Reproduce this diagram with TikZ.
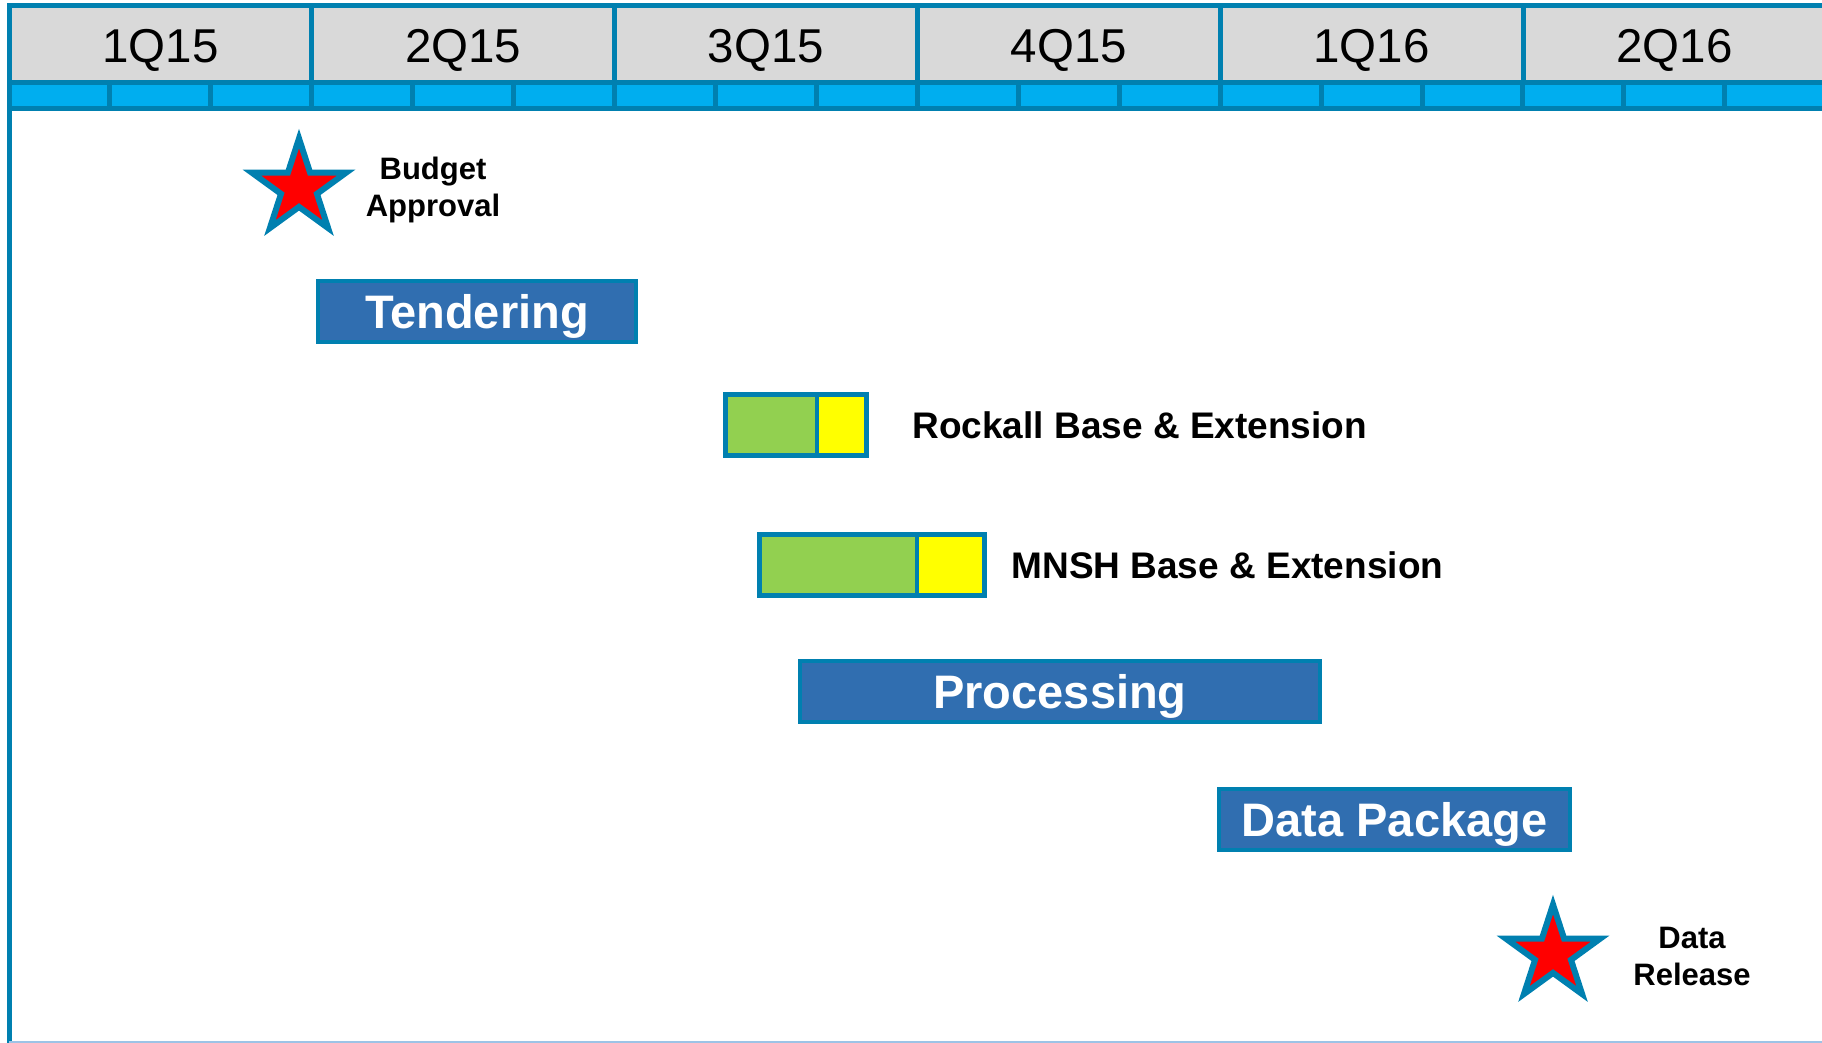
\documentclass[tikz,border=0pt]{standalone}
\usepackage{fontspec}
\setmainfont{Liberation Sans}
\usetikzlibrary{shapes.geometric,positioning}
\definecolor{frameblue}{HTML}{0080B0}
\definecolor{headgray}{HTML}{D9D9D9}
\definecolor{stripblue}{HTML}{00AEEF}
\definecolor{taskblue}{HTML}{306EB0}
\definecolor{basegreen}{HTML}{92D050}
\definecolor{extyellow}{HTML}{FFFF00}
\definecolor{edgeblue}{HTML}{9DC3E6}
\begin{document}
\begin{tikzpicture}[x=1pt,y=-1pt,
        quarter/.style={draw=frameblue,line width=5pt,fill=headgray,inner sep=0pt,outer sep=0pt,
            minimum width=302.8pt,minimum height=77pt,anchor=north west,
            text height=37.6pt,text depth=0pt,font=\fontsize{47.5}{56}\selectfont},
        month/.style={draw=frameblue,line width=5pt,fill=stripblue,inner sep=0pt,outer sep=0pt,
            minimum width=100.93pt,minimum height=26pt,anchor=north west},
        task/.style={draw=frameblue,line width=4pt,fill=taskblue,text=white,inner sep=0pt,outer sep=0pt,
            minimum height=61pt,anchor=north west,text height=33.6pt,text depth=0pt,
            font=\bfseries\fontsize{47}{56}\selectfont},
        part/.style={draw=frameblue,line width=4.5pt,inner sep=0pt,outer sep=0pt,minimum height=61pt},
        phase/.style={anchor=west,inner sep=0pt,outer sep=0pt,text height=26.5pt,text depth=0pt,
            font=\bfseries\fontsize{37}{44}\selectfont},
        milestone/.style={star,star points=5,star point ratio=2.618,minimum size=99pt,
            inner sep=0pt,outer sep=0pt,fill=red,draw=frameblue,line width=6pt},
        note/.style={align=center,inner sep=0pt,font=\bfseries\fontsize{31}{37}\selectfont},
        ]
        \useasboundingbox (0,0) rectangle (1822,1043);
        \clip (0,0) rectangle (1822,1043);

        % quarters and months
        \foreach \q [count=\i from 0] in {1Q15,2Q15,3Q15,4Q15,1Q16,2Q16}
            \node[quarter] (q\i) at (9+302.8*\i,5.5) {\q};
        \foreach \m in {0,...,17}
            \node[month] (m\m) at (9+100.93*\m,82.5) {};
        \draw[frameblue,line width=5pt] (9,5.5) -- (9,1043);
        \draw[edgeblue,line width=2pt] (9,1042) -- (1822,1042);

        % milestones
        \node[milestone] (budget) at (299,188) {};
        \node[note] (budgettxt) at (433,190) {Budget\\Approval};
        \node[milestone] (release) at (1553,954) {};
        \node[note] (releasetxt) at (1692,956) {Data\\Release};

        % tasks
        \node[task,minimum width=318pt] (tendering) at (318,281) {Tendering};

        \node[part,fill=basegreen,minimum width=91.5pt,anchor=north west] (rockallbase) at (725.5,394.5) {};
        \node[part,fill=extyellow,minimum width=49.5pt,anchor=west] (rockallext) at (rockallbase.east) {};
        \node[phase,right=46pt of rockallext] (rockalltxt) {Rockall Base \& Extension};

        \node[part,fill=basegreen,minimum width=157.5pt,anchor=north west] (mnshbase) at (759.5,534.5) {};
        \node[part,fill=extyellow,minimum width=67.5pt,anchor=west] (mnshext) at (mnshbase.east) {};
        \node[phase,right=27pt of mnshext] (mnshtxt) {MNSH Base \& Extension};

        \node[task,minimum width=520pt] (processing) at (800,661) {Processing};
        \node[task,minimum width=351pt] (datapackage) at (1219,789) {Data Package};
\end{tikzpicture}
\end{document}
